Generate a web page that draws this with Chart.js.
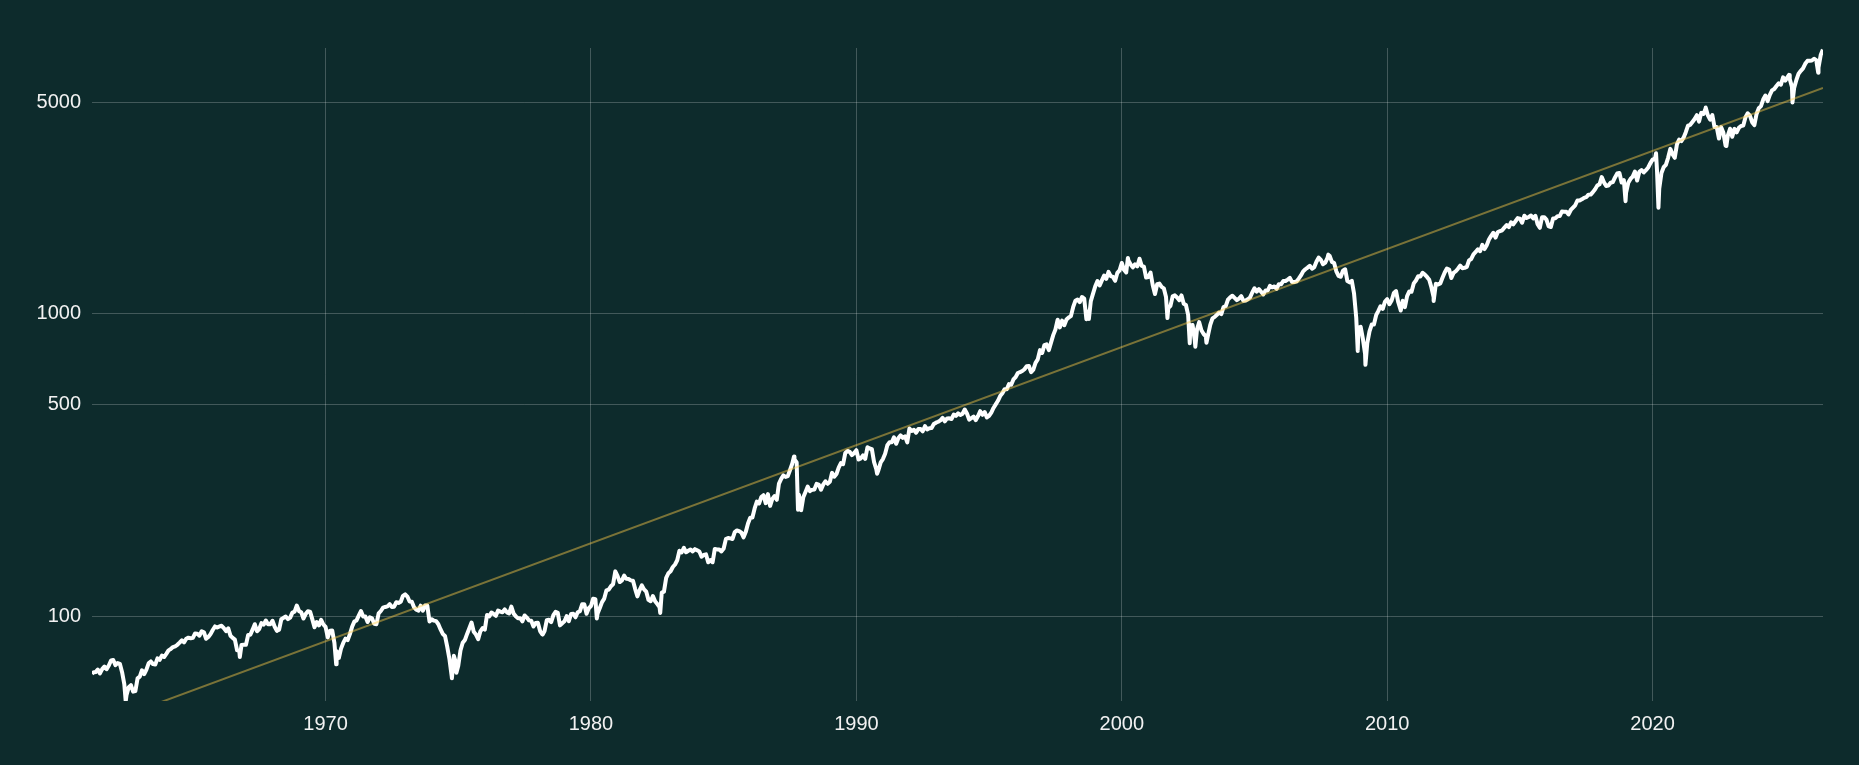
<!DOCTYPE html>
<html>
<head>
<meta charset="utf-8">
<script src="https://cdn.jsdelivr.net/npm/chart.js@4.4.1/dist/chart.umd.min.js"></script>
<style>
  html, body { margin: 0; padding: 0; background: #0d2b2c; }
  canvas { display: block; }
</style>
</head>
<body>
<canvas id="chart" width="1859" height="765"></canvas>
<script>
// monthly closes, first value = March 1961
const startYear = 1961;
const startMonth = 3;

const closes1960s = [
    65.06, 65.31, 66.56, 64.64, 66.76, 68.07, 66.73, 68.62, 71.32, 71.55,
    68.84, 69.96, 69.55, 65.24, 59.63, 54.75, 58.23, 59.12, 56.27, 56.52, 62.26, 63.10,
    66.20, 64.29, 66.57, 69.80, 70.80, 69.37, 69.13, 72.50, 71.70, 74.01, 73.23, 75.02,
    77.04, 77.80, 78.98, 79.46, 80.37, 81.69, 83.18, 81.83, 84.18, 84.86, 84.42, 84.75,
    87.56, 87.43, 86.16, 89.11, 88.42, 84.12, 85.25, 87.17, 89.96, 92.42, 91.61, 92.43,
    92.88, 91.22, 89.23, 91.06, 86.13, 84.74, 83.60, 77.10, 76.56, 80.20, 80.45, 80.33,
    86.61, 86.78, 90.20, 94.01, 89.08, 90.64, 94.75, 93.64, 96.71, 93.90, 94.00, 96.47,
    92.24, 89.36, 90.20, 97.59, 98.68, 99.58, 97.74, 98.86, 102.67, 103.41, 108.37, 103.86,
    103.01, 98.13, 101.51, 103.69, 103.46, 97.71, 91.83, 95.51, 93.12, 97.24, 93.81, 92.06,
];
const closes1970s = [
    85.02, 89.50, 89.63, 81.52, 76.55, 72.72, 78.05, 81.52, 84.21, 83.25, 87.20, 92.15,
    95.88, 96.75, 100.31, 103.95, 99.63, 99.70, 95.58, 99.03, 98.34, 94.23, 93.99, 102.09,
    103.94, 106.57, 107.20, 107.67, 109.53, 107.14, 107.39, 111.09, 110.55, 111.58, 116.67, 118.05,
    116.03, 111.68, 111.52, 106.97, 104.95, 104.26, 108.22, 104.25, 108.43, 108.29, 95.96, 97.55,
    96.57, 96.22, 93.98, 90.31, 87.28, 86.00, 79.31, 72.15, 63.54, 73.90, 69.97, 68.56,
    76.98, 81.59, 83.36, 87.30, 91.15, 95.19, 88.75, 86.88, 83.87, 89.04, 91.24, 90.19,
    100.86, 99.71, 102.77, 101.64, 100.18, 104.28, 103.44, 102.91, 105.24, 102.90, 102.10, 107.46,
    102.03, 99.82, 98.42, 98.44, 96.12, 100.48, 98.85, 96.77, 96.53, 92.34, 94.83, 95.10,
    89.25, 87.04, 89.21, 96.83, 97.24, 95.53, 100.68, 103.29, 102.54, 93.15, 94.70, 96.11,
    99.93, 96.28, 101.59, 101.76, 99.08, 102.91, 103.81, 109.32, 109.32, 101.82, 106.16, 107.94,
];
const closes1980s = [
    114.16, 113.66, 102.09, 106.29, 111.24, 114.24, 121.67, 122.38, 125.46, 127.47, 140.52, 135.76,
    129.55, 131.27, 136.00, 132.81, 132.59, 131.21, 130.92, 122.79, 116.18, 121.89, 126.35, 122.55,
    120.40, 113.11, 111.96, 116.44, 111.88, 109.61, 107.09, 119.51, 120.42, 133.71, 138.54, 140.64,
    145.30, 148.06, 152.96, 164.42, 162.39, 168.11, 162.56, 164.40, 166.07, 163.55, 166.40, 164.93,
    163.41, 157.06, 159.18, 160.05, 150.55, 153.18, 150.66, 166.68, 166.10, 166.09, 163.58, 167.24,
    179.63, 181.18, 180.66, 179.83, 189.55, 191.85, 190.92, 188.63, 182.08, 189.82, 202.17, 211.28,
    211.78, 226.92, 238.90, 235.52, 247.35, 250.84, 236.12, 252.93, 231.32, 243.98, 249.22, 242.17,
    274.08, 284.20, 291.70, 288.36, 290.10, 304.00, 318.66, 329.80, 321.83, 251.79, 230.30, 247.08,
    257.07, 267.82, 258.89, 261.33, 262.16, 273.50, 272.02, 261.52, 271.91, 278.97, 273.70, 277.72,
    297.47, 288.86, 294.87, 309.64, 320.52, 317.98, 346.08, 351.45, 349.15, 340.36, 345.99, 353.40,
];
const closes1990s = [
    329.08, 331.89, 339.94, 330.80, 361.23, 358.02, 356.15, 322.56, 306.05, 304.00, 322.22, 330.22,
    343.93, 367.07, 375.22, 375.35, 389.83, 371.16, 387.81, 395.43, 387.86, 392.46, 375.22, 417.09,
    408.79, 412.70, 403.69, 414.95, 415.35, 408.14, 424.21, 414.03, 417.80, 418.68, 431.35, 435.71,
    438.78, 443.38, 451.67, 440.19, 450.19, 450.53, 448.13, 463.56, 458.93, 467.83, 461.79, 466.45,
    481.61, 467.14, 445.77, 450.91, 456.50, 444.27, 458.26, 475.49, 462.69, 472.35, 453.69, 459.27,
    470.42, 487.39, 500.71, 514.71, 533.40, 544.75, 562.06, 561.88, 584.41, 581.50, 605.37, 615.93,
    636.02, 640.43, 645.50, 654.17, 669.12, 670.63, 639.95, 651.99, 687.31, 705.27, 757.02, 740.74,
    786.16, 790.82, 757.12, 801.34, 848.28, 885.14, 954.29, 899.47, 947.28, 914.62, 955.40, 970.43,
    980.28, 1049.34, 1101.75, 1111.75, 1090.82, 1133.84, 1120.67, 957.28, 1017.01, 1098.67, 1163.63, 1229.23,
    1279.64, 1238.33, 1286.37, 1335.18, 1301.84, 1372.71, 1328.72, 1320.41, 1282.71, 1362.93, 1388.91, 1469.25,
];
const closes2000s = [
    1394.46, 1366.42, 1498.58, 1452.43, 1420.60, 1454.60, 1430.83, 1517.68, 1436.51, 1429.40, 1314.95, 1320.28,
    1366.01, 1239.94, 1160.33, 1249.46, 1255.82, 1224.42, 1211.23, 1133.58, 1040.94, 1059.78, 1139.45, 1148.08,
    1130.20, 1106.73, 1147.39, 1076.92, 1067.14, 989.82, 911.62, 916.07, 815.28, 885.76, 936.31, 879.82,
    855.70, 841.15, 848.18, 916.92, 963.59, 974.50, 990.31, 1008.01, 995.97, 1050.71, 1058.20, 1111.92,
    1131.13, 1144.94, 1126.21, 1107.30, 1120.68, 1140.84, 1101.72, 1104.24, 1114.58, 1130.20, 1173.82, 1211.92,
    1181.27, 1203.60, 1180.59, 1156.85, 1191.50, 1191.33, 1234.18, 1220.33, 1228.81, 1207.01, 1249.48, 1248.29,
    1280.08, 1280.66, 1294.83, 1310.61, 1270.09, 1270.20, 1276.66, 1303.82, 1335.85, 1377.94, 1400.63, 1418.30,
    1438.24, 1406.82, 1420.86, 1482.37, 1530.62, 1503.35, 1455.27, 1473.99, 1526.75, 1549.38, 1481.14, 1468.36,
    1378.55, 1330.63, 1322.70, 1385.59, 1400.38, 1280.00, 1267.38, 1282.83, 1166.36, 968.75, 896.24, 903.25,
    825.88, 735.09, 797.87, 872.81, 919.14, 919.32, 987.48, 1020.62, 1057.08, 1036.19, 1095.63, 1115.10,
];
const closes2010s = [
    1073.87, 1104.49, 1169.43, 1186.69, 1089.41, 1030.71, 1101.60, 1049.33, 1141.20, 1183.26, 1180.55, 1257.64,
    1286.12, 1327.22, 1325.83, 1363.61, 1345.20, 1320.64, 1292.28, 1218.89, 1131.42, 1253.30, 1246.96, 1257.60,
    1312.41, 1365.68, 1408.47, 1397.91, 1310.33, 1362.16, 1379.32, 1406.58, 1440.67, 1412.16, 1416.18, 1426.19,
    1498.11, 1514.68, 1569.19, 1597.57, 1630.74, 1606.28, 1685.73, 1632.97, 1681.55, 1756.54, 1805.81, 1848.36,
    1782.59, 1859.45, 1872.34, 1883.95, 1923.57, 1960.23, 1930.67, 2003.37, 1972.29, 2018.05, 2067.56, 2058.90,
    1994.99, 2104.50, 2067.89, 2085.51, 2107.39, 2063.11, 2103.84, 1972.18, 1920.03, 2079.36, 2080.41, 2043.94,
    1940.24, 1932.23, 2059.74, 2065.30, 2096.95, 2098.86, 2173.60, 2170.95, 2168.27, 2126.15, 2198.81, 2238.83,
    2278.87, 2363.64, 2362.72, 2384.20, 2411.80, 2423.41, 2470.30, 2471.65, 2519.36, 2575.26, 2647.58, 2673.61,
    2823.81, 2713.83, 2640.87, 2648.05, 2705.27, 2718.37, 2816.29, 2901.52, 2913.98, 2711.74, 2760.17, 2506.85,
    2704.10, 2784.49, 2834.40, 2945.83, 2752.06, 2941.76, 2980.38, 2926.46, 2976.74, 3037.56, 3140.98, 3230.78,
];
const closes2020s = [
    3225.52, 2954.22, 2584.59, 2912.43, 3044.31, 3100.29, 3271.12, 3500.31, 3363.00, 3269.96, 3621.63, 3756.07,
    3714.24, 3811.15, 3972.89, 4181.17, 4204.11, 4297.50, 4395.26, 4522.68, 4307.54, 4605.38, 4567.00, 4766.18,
    4515.55, 4373.94, 4530.41, 4131.93, 4132.15, 3785.38, 4130.29, 3955.00, 3585.62, 3871.98, 4080.11, 3839.50,
    4076.60, 3970.15, 4109.31, 4169.48, 4179.83, 4450.38, 4588.96, 4507.66, 4288.05, 4193.80, 4567.80, 4769.83,
    4845.65, 5096.27, 5254.35, 5035.69, 5277.51, 5460.48, 5522.30, 5648.40, 5762.48, 5705.45, 6032.38, 5881.63,
    6040.53, 5954.50, 5611.85, 5569.06, 5911.69, 6204.95, 6339.39, 6460.26, 6688.46, 6840.20, 6849.00, 6860.00,
    6950.00, 6880.00, 6500.00, 7150.00, 7450.00,
];

// intra-month highs and lows visible as spikes: [year, value]
const spikes = [
    [1961.2, 64.5], [1962.47, 52.3], [1966.77, 73.2], [1970.40, 69.3],
    [1974.76, 62.3], [1974.93, 65.0], [1978.18, 86.9], [1980.22, 98.2],
    [1982.61, 102.4], [1987.65, 336.8], [1987.80, 224.8], [1987.92, 223.9],
    [1990.78, 295.5], [1998.76, 959.0], [2000.23, 1527.0], [2001.72, 965.8],
    [2002.56, 797.7], [2002.77, 776.8], [2003.19, 800.7], [2007.78, 1565.0],
    [2008.89, 752.4], [2009.18, 676.5], [2010.51, 1022.6], [2011.75, 1099.2],
    [2018.98, 2351.0], [2020.13, 3386.0], [2020.22, 2237.0], [2022.00, 4796.0],
    [2022.78, 3577.0], [2025.14, 6144.0], [2025.27, 4982.0], [2026.24, 6250.0],
];

// trend line end points
const trendYears = [1961.2, 2026.42];
const trendValues = [42.8, 5563];

const yTicks = [100, 500, 1000, 5000];
const xTicks = [1970, 1980, 1990, 2000, 2010, 2020];

const monthly = [...closes1960s, ...closes1970s, ...closes1980s, ...closes1990s, ...closes2000s, ...closes2010s, ...closes2020s];
const pricePoints = monthly
    .map((v, i) => ({ x: startYear + (startMonth + i) / 12, y: v }))
    .concat(spikes.map((s) => ({ x: s[0], y: s[1] })))
    .sort((a, b) => a.x - b.x);

const trendPoints = trendYears.map((x, i) => ({ x: x, y: trendValues[i] }));

const gridColor = 'rgba(255,255,255,0.22)';
const tickFont = { family: '"Liberation Sans", Arial, sans-serif', size: 20 };

new Chart(document.getElementById('chart'), {
    type: 'line',
    data: {
        datasets: [
            {
                data: trendPoints,
                borderColor: 'rgba(255,205,70,0.45)',
                borderWidth: 2,
                pointRadius: 0,
                order: 0,
            },
            {
                data: pricePoints,
                borderColor: '#ffffff',
                borderWidth: 4,
                borderJoinStyle: 'round',
                pointRadius: 0,
                tension: 0,
                order: 1,
            },
        ],
    },
    options: {
        responsive: false,
        animation: false,
        devicePixelRatio: 1,
        layout: { padding: { top: 48, right: 36, left: 0, bottom: 0 } },
        plugins: { legend: { display: false }, tooltip: { enabled: false } },
        scales: {
            x: {
                type: 'linear',
                min: 1961.2,
                max: 2026.42,
                afterBuildTicks: (scale) => {
                    scale.ticks = xTicks.map((v) => ({ value: v }));
                },
                afterFit: (scale) => {
                    scale.height = 64;
                },
                ticks: { color: '#f2f2f2', font: tickFont, padding: 11, callback: (v) => String(v), maxRotation: 0 },
                grid: { color: gridColor, drawTicks: false },
                border: { display: false },
            },
            y: {
                type: 'logarithmic',
                min: 52.4,
                max: 7543,
                afterBuildTicks: (scale) => {
                    scale.ticks = yTicks.map((v) => ({ value: v }));
                },
                afterFit: (scale) => {
                    scale.width = 92;
                },
                ticks: { color: '#f2f2f2', font: tickFont, padding: 11, callback: (v) => String(v) },
                grid: { color: gridColor, drawTicks: false },
                border: { display: false },
            },
        },
    },
});
</script>
</body>
</html>
